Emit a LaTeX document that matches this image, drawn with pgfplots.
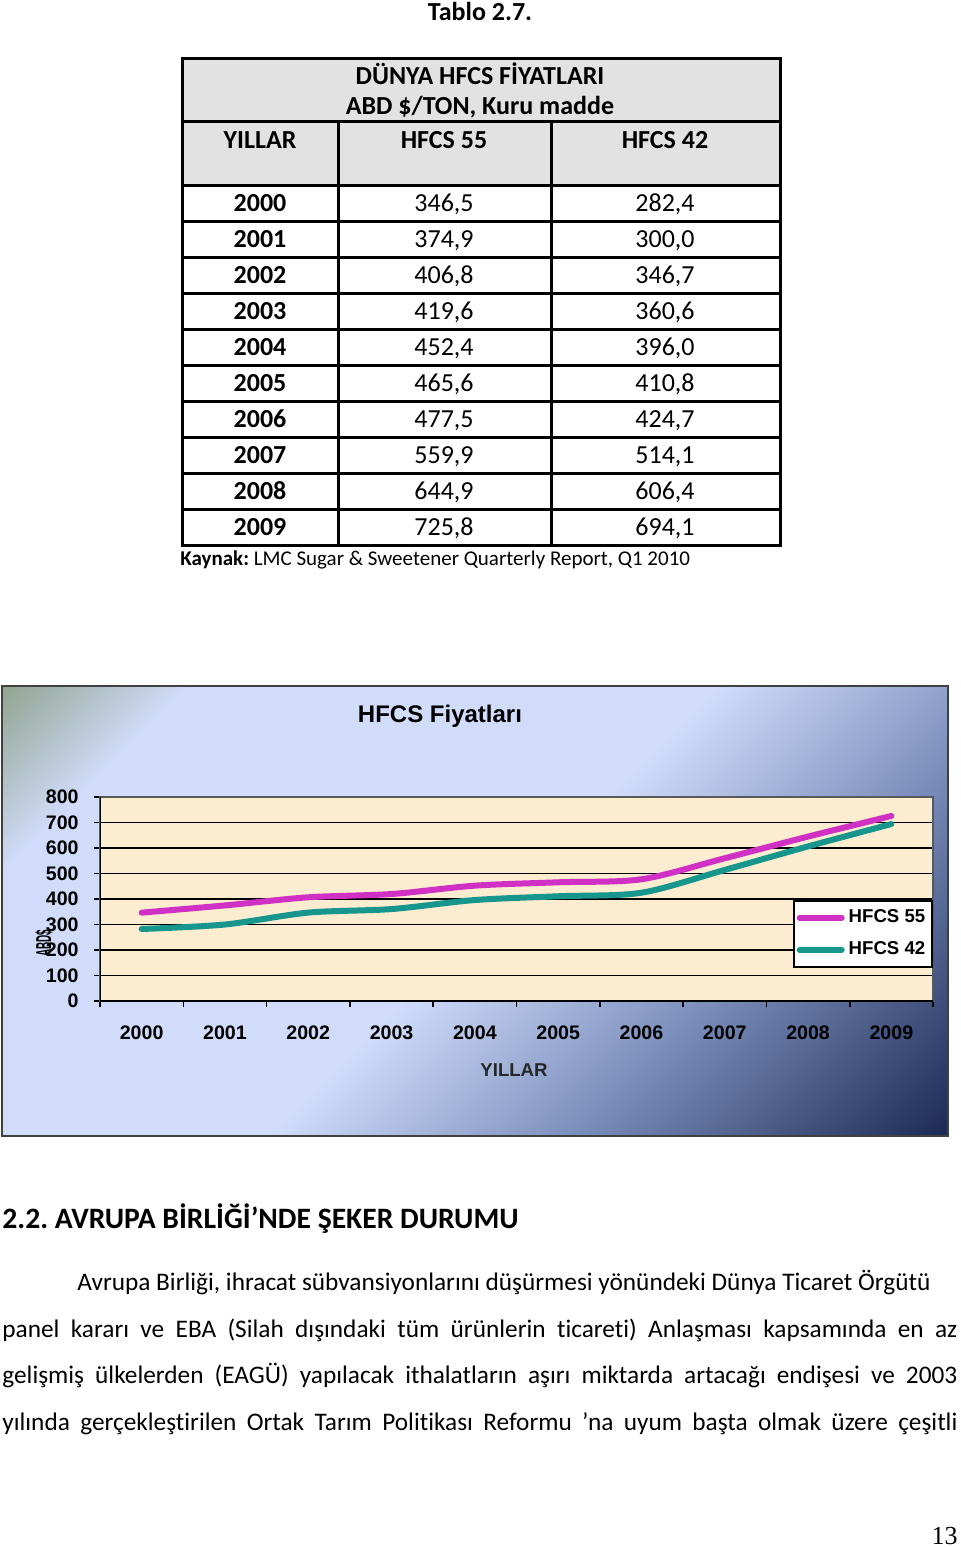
\documentclass[border=0pt]{standalone}
\usepackage{fontspec}
\setmainfont{Carlito}[Ligatures=NoCommon]
\newfontfamily\arialfont{Liberation Sans}
\newfontfamily\timesfont{Liberation Serif}
\usepackage{graphicx}
\usepackage{pgfplots}
\pgfplotsset{compat=1.18}

\definecolor{hdrgray}{RGB}{226,226,226}
\definecolor{plotbg}{RGB}{252,236,208}
\definecolor{c55}{RGB}{208,48,196}
\definecolor{c42}{RGB}{22,150,140}
\definecolor{bgA}{RGB}{145,165,145}
\definecolor{bgB}{RGB}{208,220,250}
\definecolor{bgC}{RGB}{125,145,190}
\definecolor{bgD}{RGB}{28,42,85}
\pgfdeclarehorizontalshading{chartbg}{100bp}{color(0bp)=(bgA); color(14.6bp)=(bgA); color(24bp)=(bgB); color(51bp)=(bgB); color(66bp)=(bgC); color(85.4bp)=(bgD); color(100bp)=(bgD)}

\begin{document}
\frenchspacing
\begin{tikzpicture}[x=0.5pt,y=-0.5pt]
\useasboundingbox (0,0) rectangle (960,1547);

% ---- table ----
\node[anchor=base, inner sep=0, font=\bfseries\fontsize{13}{15}\selectfont] at (480,20) {Tablo 2.7.};
\fill[hdrgray] (182,58) rectangle (780,185);
\begin{scope}[line width=1.5pt, black]
  \draw (182,58) rectangle (780,545);
  \draw (182,121) -- (780,121);
  \foreach \yy in {185,221,...,509} \draw (182,\yy) -- (780,\yy);
  \draw (338,121) -- (338,545);
  \draw (551,121) -- (551,545);
\end{scope}
\begin{scope}[every node/.style={anchor=base, inner sep=0, font=\fontsize{13}{15}\selectfont}]
  \node[font=\bfseries\fontsize{13}{15}\selectfont] at (480,84) {DÜNYA HFCS FİYATLARI};
  \node[font=\bfseries\fontsize{13}{15}\selectfont] at (480,114) {ABD \$/TON, Kuru madde};
  \node[font=\bfseries\fontsize{13}{15}\selectfont] at (260,148) {YILLAR};
  \node[font=\bfseries\fontsize{13}{15}\selectfont] at (444,148) {HFCS 55};
  \node[font=\bfseries\fontsize{13}{15}\selectfont] at (665,148) {HFCS 42};
  \foreach \yr/\a/\b [count=\i from 0] in {2000/{346,5}/{282,4},2001/{374,9}/{300,0},2002/{406,8}/{346,7},2003/{419,6}/{360,6},2004/{452,4}/{396,0},2005/{465,6}/{410,8},2006/{477,5}/{424,7},2007/{559,9}/{514,1},2008/{644,9}/{606,4},2009/{725,8}/{694,1}}{
    \node[font=\bfseries\fontsize{13}{15}\selectfont] at (260,211+36*\i) {\yr};
    \node at (444,211+36*\i) {\a};
    \node at (665,211+36*\i) {\b};
  }
\end{scope}
\node[anchor=base west, inner sep=0, font=\fontsize{10.5}{12}\selectfont] at (180,565) {\textbf{Kaynak:} LMC Sugar \& Sweetener Quarterly Report, Q1 2010};

% ---- chart ----
\shade[shading=chartbg, shading angle=-45] (2,686) rectangle (948,1136);
\draw[line width=1.2pt, black!75] (2,686) rectangle (948,1136);
\node[anchor=base, inner sep=0, font=\arialfont\bfseries\fontsize{12}{14}\selectfont] at (440,722) {HFCS Fiyatları};
\node[anchor=base, inner sep=0, font=\arialfont\bfseries\fontsize{9.3}{10}\selectfont, text=black!85] at (514,1076) {YILLAR};
\node[rotate=90, inner sep=0] at (44,943) {\resizebox{13.5pt}{8pt}{\arialfont\bfseries ABD\$}};

\coordinate (plotSW) at (100,1001);
\begin{axis}[
  at={(plotSW)}, anchor=south west,
  scale only axis, width=416.5pt, height=102pt,
  xmin=-0.5, xmax=9.5, ymin=0, ymax=800,
  xtick={0,...,9},
  xticklabels={2000,2001,2002,2003,2004,2005,2006,2007,2008,2009},
  minor xtick={-0.5,0.5,...,9.5},
  ytick={0,100,...,800},
  tick pos=left, tick align=outside,
  major tick length=3pt, minor tick length=3pt,
  major x tick style={draw=none},
  tick style={black, line width=0.8pt},
  ymajorgrids, major grid style={black, line width=0.6pt},
  axis line style={draw=gray!70!black, line width=0.8pt},
  axis background/.style={fill=plotbg},
  ticklabel style={font=\arialfont\bfseries\fontsize{9.8}{11}\selectfont},
  /pgf/number format/assume math mode=true,
  xticklabel style={anchor=center, inner sep=0pt, yshift=-13pt},
  yticklabel style={anchor=east, inner sep=0pt, xshift=-7.5pt},
  legend style={at={(1,0.495)}, anchor=north east, draw=black, line width=0.8pt,
    fill=white, font=\arialfont\bfseries\fontsize{9.3}{10}\selectfont,
    inner xsep=1.5pt, inner ysep=2.5pt, row sep=4pt, cells={anchor=west}},
  legend image code/.code={\draw[#1] (0pt,0pt) -- (21pt,0pt);},
]
\addplot[c55, line width=3pt, line cap=round, smooth] coordinates {
  (0,346.5) (1,374.9) (2,406.8) (3,419.6) (4,452.4) (5,465.6) (6,477.5) (7,559.9) (8,644.9) (9,725.8)};
\addlegendentry{HFCS 55}
\addplot[c42, line width=3pt, line cap=round, smooth] coordinates {
  (0,282.4) (1,300.0) (2,346.7) (3,360.6) (4,396.0) (5,410.8) (6,424.7) (7,514.1) (8,606.4) (9,694.1)};
\addlegendentry{HFCS 42}
\draw[black, line width=1pt] (rel axis cs:0,1) -- (rel axis cs:0,0) -- (rel axis cs:1,0);
\end{axis}

% ---- text ----
\node[anchor=base west, inner sep=0, font=\bfseries\fontsize{14.8}{18}\selectfont] at (2,1228) {2.2. AVRUPA BİRLİĞİ’NDE ŞEKER DURUMU};
\begin{scope}[every node/.style={anchor=base west, inner sep=0, font=\fontsize{12.65}{15}\selectfont}]
  \node at (77,1290) {Avrupa Birliği, ihracat sübvansiyonlarını düşürmesi yönündeki Dünya Ticaret Örgütü};
  \node at (2,1337) {\makebox[477.5pt][s]{panel kararı ve EBA (Silah dışındaki tüm ürünlerin ticareti) Anlaşması kapsamında en az}};
  \node at (2,1383) {\makebox[477.5pt][s]{gelişmiş ülkelerden (EAGÜ) yapılacak ithalatların aşırı miktarda artacağı endişesi ve 2003}};
  \node at (2,1430) {\makebox[477.5pt][s]{yılında gerçekleştirilen Ortak Tarım Politikası Reformu ’na uyum başta olmak üzere çeşitli}};
\end{scope}
\node[anchor=base east, inner sep=0, font=\timesfont\fontsize{13}{15}\selectfont] at (958,1544) {13};
\end{tikzpicture}
\end{document}
